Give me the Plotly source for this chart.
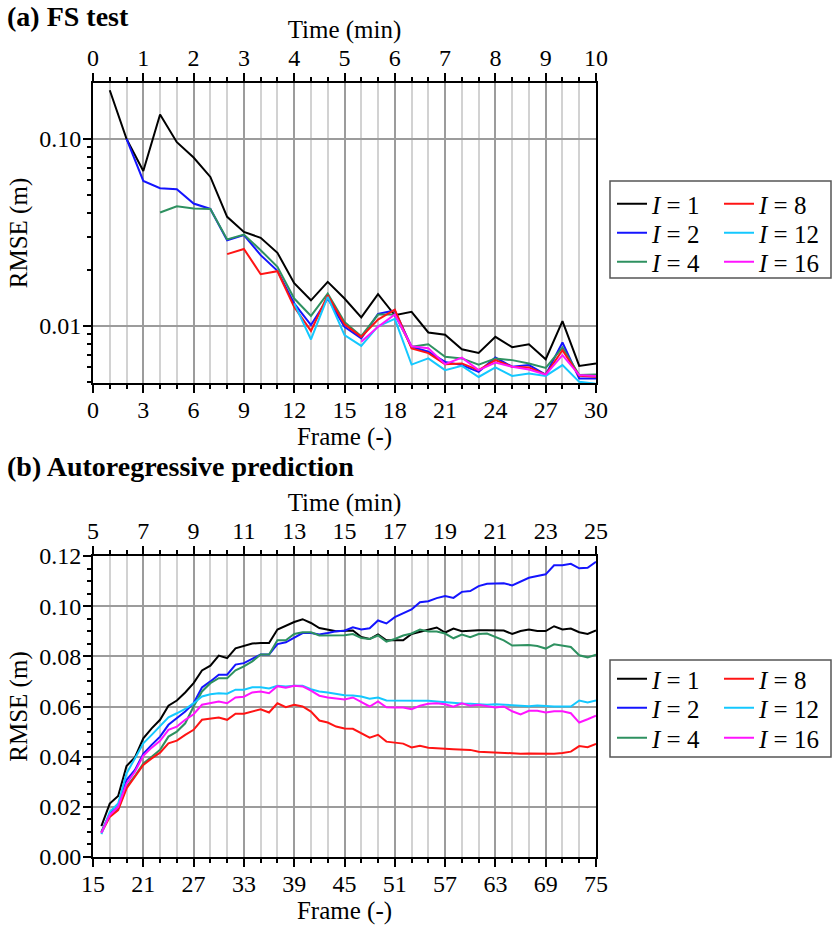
import math
import plotly.graph_objects as go

# ---------------- data ----------------
series_I = [1, 2, 4, 8, 12, 16]
frames_per_min = 3

# (a) FS test: RMSE vs frame; each series starts at frame = I
fs_I1 = [0.182, 0.100, 0.0674, 0.135, 0.096, 0.0795, 0.0626, 0.0383, 0.0318, 0.0296,
         0.0246, 0.0169, 0.0137, 0.0172, 0.0140, 0.0111, 0.0148, 0.0114, 0.0119, 0.00922,
         0.00896, 0.00750, 0.00717, 0.00874, 0.00769, 0.00798, 0.00663, 0.0106, 0.00611, 0.00630]
fs_I2 = [0.100, 0.0596, 0.0545, 0.0538, 0.0451, 0.0422, 0.0287, 0.0306, 0.0239, 0.0197,
         0.0132, 0.0101, 0.0140, 0.00988, 0.00857, 0.0116, 0.0121, 0.00773, 0.00727, 0.00642,
         0.00617, 0.00568, 0.00677, 0.00605, 0.00617, 0.00549, 0.00815, 0.00523, 0.00523]
fs_I4 = [0.0404, 0.0436, 0.0425, 0.0422, 0.0290, 0.0308, 0.0254, 0.0207, 0.0140, 0.0113,
         0.0149, 0.0105, 0.00881, 0.0115, 0.0115, 0.00773, 0.00798, 0.00683, 0.0067, 0.00621,
         0.0067, 0.00656, 0.0063, 0.00596, 0.00766, 0.00546, 0.00549]
fs_I8 = [0.0242, 0.0258, 0.0189, 0.0196, 0.0126, 0.0094, 0.0146, 0.0102, 0.00873, 0.0108,
         0.0122, 0.00757, 0.00715, 0.00624, 0.0063, 0.0058, 0.00656, 0.00605, 0.0060, 0.00549,
         0.00741, 0.00541, 0.00535]
fs_I12 = [0.0132, 0.00846, 0.0143, 0.00892, 0.00782, 0.00996, 0.0109, 0.00621, 0.0067, 0.0058,
          0.00611, 0.00533, 0.0060, 0.0054, 0.00557, 0.0054, 0.00617, 0.00502, 0.0049]
fs_I16 = [0.00822, 0.00988, 0.0115, 0.00778, 0.0076, 0.00624, 0.00676, 0.0058, 0.00637, 0.00605,
          0.00585, 0.00549, 0.00697, 0.00546, 0.0054]
fs_series = [fs_I1, fs_I2, fs_I4, fs_I8, fs_I12, fs_I16]

# (b) Autoregressive prediction: frames 16..75
ar_frames = list(range(16, 76))
ar_I1 = [0.0123, 0.0213, 0.0243, 0.0363, 0.0397, 0.0473, 0.0513, 0.0547, 0.0603, 0.0624,
         0.0656, 0.0693, 0.0744, 0.0763, 0.0803, 0.0793, 0.0832, 0.0840, 0.0851, 0.0853,
         0.0853, 0.0907, 0.0923, 0.0937, 0.0948, 0.0933, 0.0913, 0.0907, 0.0900, 0.0902,
         0.0903, 0.0877, 0.0869, 0.0887, 0.0864, 0.0864, 0.0864, 0.0889, 0.0897, 0.0907,
         0.0915, 0.0895, 0.0911, 0.0900, 0.0903, 0.0904, 0.0904, 0.0904, 0.0903, 0.0889,
         0.0901, 0.0907, 0.0901, 0.0901, 0.0920, 0.0907, 0.0911, 0.0896, 0.0889, 0.0903]
ar_I2 = [0.0100, 0.0173, 0.0200, 0.0307, 0.0347, 0.0411, 0.0447, 0.0480, 0.0527, 0.0553,
         0.0580, 0.0613, 0.0676, 0.0700, 0.0727, 0.0727, 0.0767, 0.0773, 0.0789, 0.0807,
         0.0807, 0.0849, 0.0856, 0.0873, 0.0893, 0.0893, 0.0887, 0.0893, 0.0900, 0.0902,
         0.0916, 0.0907, 0.0912, 0.0943, 0.0931, 0.0956, 0.0973, 0.0987, 0.1016, 0.1020,
         0.1032, 0.1040, 0.1033, 0.1057, 0.1060, 0.1080, 0.1089, 0.1091, 0.1091, 0.1083,
         0.1097, 0.1113, 0.1120, 0.1127, 0.1163, 0.1163, 0.1169, 0.1151, 0.1153, 0.1177]
ar_I4 = [0.0100, 0.0167, 0.0193, 0.0280, 0.0323, 0.0373, 0.0400, 0.0427, 0.0480, 0.0500,
         0.0533, 0.0600, 0.0660, 0.0693, 0.0713, 0.0713, 0.0744, 0.0760, 0.0780, 0.0807,
         0.0807, 0.0864, 0.0864, 0.0889, 0.0896, 0.0896, 0.0883, 0.0883, 0.0883, 0.0884,
         0.0889, 0.0873, 0.0869, 0.0883, 0.0859, 0.0869, 0.0883, 0.0891, 0.0907, 0.0899,
         0.0899, 0.0891, 0.0872, 0.0887, 0.0876, 0.0889, 0.0891, 0.0877, 0.0864, 0.0843,
         0.0843, 0.0845, 0.0841, 0.0831, 0.0848, 0.0841, 0.0837, 0.0804, 0.0796, 0.0807]
ar_I8 = [0.0096, 0.0160, 0.0187, 0.0273, 0.0320, 0.0367, 0.0393, 0.0416, 0.0453, 0.0464,
         0.0487, 0.0507, 0.0547, 0.0551, 0.0556, 0.0547, 0.0571, 0.0571, 0.0580, 0.0589,
         0.0576, 0.0613, 0.0597, 0.0607, 0.0600, 0.0580, 0.0544, 0.0536, 0.0520, 0.0512,
         0.0511, 0.0493, 0.0476, 0.0487, 0.0460, 0.0456, 0.0452, 0.0437, 0.0443, 0.0436,
         0.0435, 0.0432, 0.0430, 0.0430, 0.0427, 0.0420, 0.0418, 0.0416, 0.0414, 0.0413,
         0.0412, 0.0413, 0.0412, 0.0411, 0.0412, 0.0415, 0.0420, 0.0442, 0.0438, 0.0451]
ar_I12 = [0.0091, 0.0180, 0.0213, 0.0333, 0.0393, 0.0453, 0.0487, 0.0520, 0.0557, 0.0573,
          0.0590, 0.0613, 0.0640, 0.0649, 0.0653, 0.0651, 0.0667, 0.0667, 0.0677, 0.0677,
          0.0672, 0.0683, 0.0680, 0.0683, 0.0683, 0.0669, 0.0660, 0.0656, 0.0649, 0.0645,
          0.0644, 0.0640, 0.0631, 0.0636, 0.0624, 0.0624, 0.0624, 0.0624, 0.0624, 0.0623,
          0.0620, 0.0617, 0.0615, 0.0612, 0.0611, 0.0609, 0.0607, 0.0609, 0.0607, 0.0605,
          0.0604, 0.0601, 0.0604, 0.0601, 0.0600, 0.0600, 0.0600, 0.0624, 0.0616, 0.0624]
ar_I16 = [0.0096, 0.0167, 0.0200, 0.0293, 0.0340, 0.0404, 0.0436, 0.0463, 0.0507, 0.0520,
          0.0547, 0.0569, 0.0607, 0.0613, 0.0620, 0.0613, 0.0636, 0.0639, 0.0656, 0.0660,
          0.0653, 0.0681, 0.0675, 0.0683, 0.0680, 0.0663, 0.0643, 0.0636, 0.0631, 0.0628,
          0.0636, 0.0617, 0.0600, 0.0620, 0.0597, 0.0596, 0.0596, 0.0589, 0.0603, 0.0611,
          0.0613, 0.0609, 0.0599, 0.0613, 0.0603, 0.0607, 0.0603, 0.0596, 0.0600, 0.0581,
          0.0568, 0.0583, 0.0583, 0.0576, 0.0581, 0.0581, 0.0573, 0.0536, 0.0549, 0.0563]
ar_series = [ar_I1, ar_I2, ar_I4, ar_I8, ar_I12, ar_I16]

colors = ["#000000", "#1414ff", "#2e9160", "#ff1414", "#14c8ff", "#ff14ff"]

# ---------------- figure ----------------
W, H = 833, 925
FONT = "Liberation Serif"


def fx(p):
    return p / W


def fy(p):
    return 1 - p / H


fig = go.Figure()

# legend slots: column (0/1) and row (0..2) for each series
leg_col = [0, 0, 0, 1, 1, 1]
leg_row = [0, 1, 2, 0, 1, 2]

for k, (I, vals, c) in enumerate(zip(series_I, fs_series, colors)):
    frames = list(range(I, I + len(vals)))
    fig.add_trace(go.Scatter(
        x=frames, y=vals, mode="lines", xaxis="x", yaxis="y",
        line=dict(color=c, width=2), name="<i>I</i> = %d" % I,
        legend="legend" if k == 0 else "legend%d" % (k + 1), showlegend=True))

for k, (I, vals, c) in enumerate(zip(series_I, ar_series, colors)):
    fig.add_trace(go.Scatter(
        x=ar_frames, y=vals, mode="lines", xaxis="x3", yaxis="y3",
        line=dict(color=c, width=2), name="<i>I</i> = %d" % I,
        legend="legend%d" % (k + 7), showlegend=True))

# invisible carriers so the time (minute) axes are drawn
fig.add_trace(go.Scatter(x=[f / frames_per_min for f in range(1, 1 + len(fs_I1))], y=fs_I1,
                         xaxis="x2", yaxis="y", mode="lines", opacity=0, showlegend=False,
                         hoverinfo="skip"))
fig.add_trace(go.Scatter(x=[f / frames_per_min for f in ar_frames], y=ar_I1,
                         xaxis="x4", yaxis="y3", mode="lines", opacity=0, showlegend=False,
                         hoverinfo="skip"))

dom_x = [fx(93), fx(596)]
dom_top = [fy(383), fy(83)]
dom_bot = [fy(857), fy(556)]

GRID_DARK = "#9c9c9c"
GRID_LIGHT = "#d2d2d2"
tickfont = dict(family=FONT, size=24, color="black")
titlefont = dict(family=FONT, size=25, color="black")

common_axis = dict(showline=True, linecolor="black", linewidth=2, ticks="outside",
                   tickcolor="black", tickwidth=2, ticklen=8, tickfont=tickfont,
                   zeroline=False)

fig.update_layout(
    width=W, height=H, margin=dict(l=0, r=0, t=0, b=0, autoexpand=False),
    paper_bgcolor="white", plot_bgcolor="white",
    font=dict(family=FONT, color="black"),
    xaxis=dict(domain=dom_x, anchor="y", range=[0, 30], tickmode="linear", tick0=0, dtick=3,
               mirror=True, showgrid=True, gridcolor=GRID_DARK, gridwidth=2,
               ticklabelstandoff=-4,
               minor=dict(tick0=0, dtick=1, ticks="outside", ticklen=4, tickwidth=1.5,
                          tickcolor="black", showgrid=True, gridcolor=GRID_LIGHT, gridwidth=2),
               title=dict(text="Frame (-)", font=titlefont, standoff=2), **common_axis),
    xaxis2=dict(overlaying="x", anchor="y", side="top", range=[0, 10], tickmode="linear",
                tick0=0, dtick=1, showgrid=False, ticklabelstandoff=-3,
                minor=dict(tick0=0, dtick=1 / 3, ticks="outside", ticklen=4, tickwidth=1.5,
                           tickcolor="black", showgrid=False),
                title=dict(text="Time (min)", font=titlefont, standoff=0), **common_axis),
    yaxis=dict(domain=dom_top, anchor="x", type="log",
               range=[math.log10(0.00495), math.log10(0.199)],
               tickmode="array", tickvals=[0.01, 0.1], ticktext=["0.01", "0.10"],
               mirror=True, showgrid=True, gridcolor=GRID_DARK, gridwidth=2,
               ticklabelstandoff=-3,
               minor=dict(tickmode="array",
                          tickvals=[0.005, 0.006, 0.007, 0.008, 0.009, 0.02, 0.03, 0.04,
                                    0.05, 0.06, 0.07, 0.08, 0.09],
                          ticks="outside", ticklen=4, tickwidth=1.5, tickcolor="black",
                          showgrid=False),
               title=dict(text="RMSE (m)", font=titlefont, standoff=4), **common_axis),
    xaxis3=dict(domain=dom_x, anchor="y3", range=[15, 75], tickmode="linear", tick0=15, dtick=6,
                mirror=True, showgrid=True, gridcolor=GRID_DARK, gridwidth=2,
                ticklabelstandoff=-4,
                minor=dict(tick0=15, dtick=2, ticks="outside", ticklen=4, tickwidth=1.5,
                           tickcolor="black", showgrid=True, gridcolor=GRID_LIGHT, gridwidth=2),
                title=dict(text="Frame (-)", font=titlefont, standoff=3), **common_axis),
    xaxis4=dict(overlaying="x3", anchor="y3", side="top", range=[5, 25], tickmode="linear",
                tick0=5, dtick=2, showgrid=False, ticklabelstandoff=-3,
                minor=dict(tick0=5, dtick=2 / 3, ticks="outside", ticklen=4, tickwidth=1.5,
                           tickcolor="black", showgrid=False),
                title=dict(text="Time (min)", font=titlefont, standoff=0), **common_axis),
    yaxis3=dict(domain=dom_bot, anchor="x3", range=[0, 0.12], tickmode="linear", tick0=0,
                dtick=0.02, tickformat=".2f", ticklabelstandoff=-3,
                mirror=True, showgrid=True, gridcolor=GRID_DARK, gridwidth=2,
                minor=dict(tick0=0, dtick=0.005, ticks="outside", ticklen=4, tickwidth=1.5,
                           tickcolor="black", showgrid=False),
                title=dict(text="RMSE (m)", font=titlefont, standoff=4), **common_axis),
)

# one legend per entry, arranged in a 2 x 3 grid inside a framed box
legend_font = dict(family=FONT, size=25, color="black")
col_x = [612, 719]
row_y_top = [204, 233, 262]
row_y_bot = [679, 708, 738]
legend_layout = {}
for k in range(6):
    for panel, rows in ((0, row_y_top), (1, row_y_bot)):
        idx = k + 1 + 6 * panel
        key = "legend" if idx == 1 else "legend%d" % idx
        legend_layout[key] = dict(
            x=fx(col_x[leg_col[k]]), y=fy(rows[leg_row[k]]), xanchor="left", yanchor="middle",
            bgcolor="rgba(0,0,0,0)", borderwidth=0, font=legend_font, orientation="v")
fig.update_layout(**legend_layout)

fig.add_shape(type="rect", xref="paper", yref="paper", x0=fx(610), x1=fx(831),
              y0=fy(181), y1=fy(278), line=dict(color="#555555", width=1.5),
              fillcolor="rgba(0,0,0,0)", layer="below")
fig.add_shape(type="rect", xref="paper", yref="paper", x0=fx(610), x1=fx(831),
              y0=fy(660), y1=fy(757), line=dict(color="#555555", width=1.5),
              fillcolor="rgba(0,0,0,0)", layer="below")

fig.add_annotation(text="<b>(a) FS test</b>", xref="paper", yref="paper", x=fx(5), y=fy(16),
                   xanchor="left", yanchor="middle", showarrow=False,
                   font=dict(family=FONT, size=28, color="black"))
fig.add_annotation(text="<b>(b) Autoregressive prediction</b>", xref="paper", yref="paper",
                   x=fx(5), y=fy(467), xanchor="left", yanchor="middle", showarrow=False,
                   font=dict(family=FONT, size=28, color="black"))

fig.write_html("out.html")
